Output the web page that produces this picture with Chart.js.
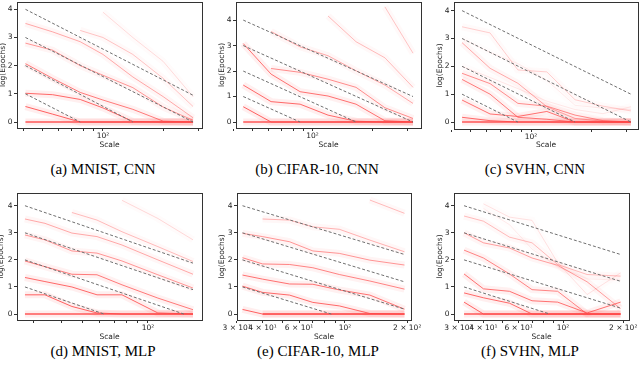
<!DOCTYPE html>
<html>
<head>
<meta charset="utf-8">
<script src="https://cdn.jsdelivr.net/npm/chart.js@4.4.1/dist/chart.umd.min.js"></script>
<style>
  body { margin: 0; background: #fff; width: 640px; height: 374px; position: relative; overflow: hidden; }
  .pane { position: absolute; }
  .cap { position: absolute; width: 200px; text-align: center; font-family: 'Liberation Serif', serif; font-size: 15px; color: #000; white-space: nowrap; }
</style>
</head>
<body>
<div class="pane" style="left:-1px;top:0;"><canvas id="pa" width="206" height="152"></canvas></div>
<div class="pane" style="left:218px;top:0;"><canvas id="pb" width="206" height="152"></canvas></div>
<div class="pane" style="left:436px;top:0;"><canvas id="pc" width="204" height="152"></canvas></div>
<div class="pane" style="left:-3px;top:191px;"><canvas id="pd" width="208" height="151"></canvas></div>
<div class="pane" style="left:218px;top:191px;"><canvas id="pe" width="203" height="151"></canvas></div>
<div class="pane" style="left:436px;top:191px;"><canvas id="pf" width="204" height="151"></canvas></div>

<div class="cap" style="left:3px;top:161px;">(a) MNIST, CNN</div>
<div class="cap" style="left:217px;top:161px;">(b) CIFAR-10, CNN</div>
<div class="cap" style="left:435px;top:161px;">(c) SVHN, CNN</div>
<div class="cap" style="left:3px;top:343px;">(d) MNIST, MLP</div>
<div class="cap" style="left:218px;top:343px;">(e) CIFAR-10, MLP</div>
<div class="cap" style="left:430px;top:343px;">(f) SVHN, MLP</div>

<script>
// scale values on the x axis, one list per panel
const xsA = [41, 56, 77, 100, 141, 200, 282];
const xsB = [45, 62, 86.6, 119.5, 165, 230, 318];
const xsC = [45.2, 62.4, 86, 120, 166, 229, 316];
const xsD = [27.3, 33.7, 44.8, 58.4, 76, 111, 160.9];
const xsE = [32, 40, 54, 70, 94, 132, 194];
const xsF = [32, 40, 54, 70, 94, 132, 194];

// log(Epochs) curves, one row per curve
const mnistCnn = [
  [0, 0, 0, 0, 0, 0, 0],
  [0.55, 0.28, 0, 0, 0, 0, 0],
  [1.02, 0.97, 0.8, 0.5, 0.02, 0, 0],
  [2.07, 1.55, 1.05, 0.78, 0.45, 0.03, 0],
  [2.8, 2.55, 2.0, 1.66, 1.22, 0.53, 0.06],
  [3.5, 3.2, 2.85, 2.4, 1.6, 0.9, 0.15],
  [null, null, 3.25, 3.0, 2.4, 1.55, 0.55],
  [null, null, null, 3.9, 3.0, 2.15, 0.9]
];
const alphaA = [0.9, 0.85, 0.8, 0.7, 0.55, 0.45, 0.3, 0.18];

const cifarCnn = [
  [0, 0, 0, 0, 0, 0, 0],
  [0.6, 0, 0, 0, 0, 0, 0],
  [1.45, 0.8, 0.7, 0.27, 0.03, 0, 0],
  [3.08, 1.88, 1.19, 1.02, 0.7, 0.05, 0],
  [null, 2.1, 1.95, 1.68, 1.36, 0.56, 0.14],
  [null, 3.55, 2.95, 2.6, 2.01, 1.45, 0.73],
  [null, null, null, 4.16, 3.15, 2.52, 1.36],
  [null, null, null, null, null, 4.52, 2.7]
];
const alphaB = [0.9, 0.85, 0.8, 0.75, 0.6, 0.45, 0.35, 0.3];

const svhnCnn = [
  [0, 0, 0, 0, 0, 0, 0],
  [0.17, 0.05, 0, 0, 0, 0, 0],
  [0.79, 0.29, 0.2, 0.38, 0, 0, 0],
  [1.53, 1.0, 0.17, 0.1, 0, 0, 0],
  [1.75, 1.38, 0.67, 0.57, 0.25, 0.05, 0],
  [2.85, 1.93, 1.39, 0.55, 0.13, 0.03, 0],
  [3.42, 3.2, 1.87, 1.8, 0.8, 0.57, 0.4],
  [2.0, 1.6, 1.2, 0.75, 0.45, 0.3, 0.55],
  [3.0, 2.5, 2.1, 1.5, 0.6, 0.5, 0.45]
];
const alphaC = [0.9, 0.8, 0.75, 0.7, 0.6, 0.45, 0.25, 0.12, 0.1];

const mnistMlp = [
  [0, 0, 0, 0, 0, 0, 0],
  [0.71, 0.71, 0.28, 0.04, 0, 0, 0],
  [1.35, 1.2, 1.0, 0.71, 0.71, 0.04, 0],
  [1.96, 1.75, 1.47, 1.45, 1.08, 0.59, 0.16],
  [2.92, 2.74, 2.33, 2.25, 1.96, 1.45, 0.96],
  [3.51, 3.35, 2.99, 2.86, 2.55, 2.0, 1.47],
  [null, null, 3.75, 3.47, 3.04, 2.49, 1.94],
  [null, null, null, null, 4.2, 3.53, 2.74]
];
const alphaD = [0.9, 0.85, 0.8, 0.7, 0.55, 0.45, 0.35, 0.2];

const cifarMlp = [
  [null, 0, 0, 0, 0, 0, 0],
  [0.17, 0, 0, 0, 0, 0, 0],
  [1.03, 0.8, 0.7, 0.43, 0.3, 0.02, 0],
  [1.44, 1.29, 1.11, 1.1, 0.89, 0.7, 0.18],
  [2.08, 1.85, 1.83, 1.71, 1.46, 1.22, 0.92],
  [2.98, 2.86, 2.67, 2.33, 2.24, 1.99, 1.81],
  [null, 3.51, 3.47, 3.22, 3.13, 2.73, 2.3],
  [null, null, null, null, null, 4.21, 3.72]
];
const alphaE = [0.9, 0.85, 0.8, 0.75, 0.65, 0.55, 0.4, 0.35];

const svhnMlp = [
  [0, 0, 0, 0, 0, 0, 0],
  [0.44, 0, 0, 0, 0, 0, 0],
  [0.78, 0.6, 0.4, 0, 0, 0, 0],
  [1.48, 0.93, 0.84, 0.49, 0.44, 0.04, 0.44],
  [2.36, 2.07, 1.48, 0.9, 0.84, 0, 0],
  [3.0, 2.63, 2.44, 2.07, 1.8, 1.19, 0.2],
  [3.62, 3.43, 2.84, 2.63, 1.83, 1.46, 1.4],
  [null, 4.07, 3.58, 3.46, 1.9, 0.72, 1.52],
  [null, 3.9, 3.3, 2.4, 1.75, 1.3, 1.25]
];
const alphaF = [0.9, 0.85, 0.8, 0.75, 0.65, 0.5, 0.35, 0.15, 0.1];

// grey dashed reference lines: [start y, end scale, end y]
const refA = [[4, 282, 0.95], [3, 282, 0], [2, 141, 0], [1, 77, 0]];
const refB = [[4, 318, 1.0], [3, 318, 0], [2, 165, 0], [1, 86.6, 0]];
const refC = [[4, 316, 1.0], [3, 316, 0], [2, 166, 0], [1, 86, 0]];
const refD = [[4, 160.9, 1.88], [3, 160.9, 0.9], [2, 146, 0], [1, 63, 0]];
const refE = [[4, 194, 2.2], [3, 194, 1.19], [2, 194, 0.18], [1, 86, 0]];
const refF = [[4, 194, 2.2], [3, 194, 1.21], [2, 194, 0.22], [1, 86, 0]];

// x tick positions and labels
const ticksTop = [40, 50, 60, 70, 80, 90, 100, 200, 300];
const ticksD = [30, 40, 50, 60, 70, 80, 90, 100];
const ticksEF = [30, 40, 50, 60, 70, 80, 90, 100, 200];
const labOne = { 100: '10²' };
const labEF = { 30: '3 × 10¹', 40: '4 × 10¹', 60: '6 × 10¹', 100: '10²', 200: '2 × 10²' };
const yTicks = [0, 1, 2, 3, 4];

const frame = {
  id: 'frame',
  afterDraw(chart) {
    const a = chart.chartArea, ctx = chart.ctx;
    ctx.save();
    ctx.strokeStyle = '#333';
    ctx.lineWidth = 1;
    ctx.strokeRect(Math.round(a.left) + 0.5, Math.round(a.top) + 0.5, Math.round(a.right - a.left), Math.round(a.bottom - a.top));
    ctx.restore();
  }
};

const tickFont = { family: 'DejaVu Sans', size: 7.5 };

function makePanel(id, xs, curves, alphas, refs, cfg) {
  const sets = [];
  refs.forEach(r => {
    sets.push({
      data: [{ x: xs[0], y: r[0] }, { x: r[1], y: r[2] }],
      borderColor: '#6f6f6f', borderWidth: 1, borderDash: [3, 2], pointRadius: 0
    });
  });
  const pts = curves.map(c => xs.map((x, i) => ({ x: x, y: c[i] })).filter(p => p.y !== null));
  pts.forEach((p, k) => {
    sets.push({ data: p, borderColor: 'rgba(255,70,70,' + alphas[k] + ')', borderWidth: k === 0 ? 1.5 : 1, pointRadius: 0 });
  });
  pts.forEach((p, k) => {
    sets.push({ data: p, borderColor: 'rgba(255,90,90,' + (alphas[k] * 0.12) + ')', borderWidth: 7, pointRadius: 0 });
  });

  new Chart(document.getElementById(id), {
    type: 'line',
    data: { datasets: sets },
    options: {
      responsive: false,
      animation: false,
      devicePixelRatio: 1,
      layout: { padding: { top: 2, right: cfg.padRight, left: 0, bottom: 0 } },
      plugins: { legend: { display: false }, tooltip: { enabled: false } },
      scales: {
        x: {
          type: 'logarithmic',
          min: cfg.xMin, max: cfg.xMax,
          afterBuildTicks: s => { s.ticks = cfg.xTicks.map(v => ({ value: v })); },
          afterFit: s => { s.height = cfg.xh; s.paddingLeft = 0; s.paddingRight = 0; },
          ticks: {
            autoSkip: false, maxRotation: 0, padding: 1, color: '#222', font: tickFont,
            callback: v => cfg.labels[v] || ''
          },
          grid: { display: true, drawOnChartArea: false, drawTicks: true, tickLength: 3, color: '#333' },
          border: { display: true, color: '#333' },
          title: { display: true, text: 'Scale', color: '#222', font: tickFont, padding: { top: 0, bottom: cfg.titlePad } }
        },
        y: {
          min: cfg.yMin, max: cfg.yMax,
          afterBuildTicks: s => { s.ticks = yTicks.map(v => ({ value: v })); },
          afterFit: s => { s.width = cfg.yw; s.paddingTop = 0; s.paddingBottom = 0; },
          ticks: { padding: 1.5, color: '#222', font: tickFont },
          grid: { display: true, drawOnChartArea: false, drawTicks: true, tickLength: 3, color: '#333' },
          border: { display: true, color: '#333' },
          title: { display: true, text: 'log(Epochs)', color: '#222', font: tickFont, padding: { top: 0, bottom: 0 } }
        }
      }
    },
    plugins: [frame]
  });
}

makePanel('pa', xsA, mnistCnn, alphaA, refA, { xMin: 37.2, xMax: 312.6, yMin: -0.213, yMax: 4.26, xTicks: ticksTop, labels: labOne, yw: 18, xh: 24, padRight: 3, titlePad: 2 });
makePanel('pb', xsB, cifarCnn, alphaB, refB, { xMin: 41.4, xMax: 348.6, yMin: -0.235, yMax: 4.71, xTicks: ticksTop, labels: labOne, yw: 18, xh: 24, padRight: 3, titlePad: 2 });
makePanel('pc', xsC, svhnCnn, alphaC, refC, { xMin: 41.2, xMax: 342.8, yMin: -0.25, yMax: 4.31, xTicks: ticksTop, labels: labOne, yw: 18, xh: 23, padRight: 2, titlePad: 2 });
makePanel('pd', xsD, mnistMlp, alphaD, refD, { xMin: 25.1, xMax: 176.9, yMin: -0.22, yMax: 4.47, xTicks: ticksD, labels: labOne, yw: 20, xh: 22, padRight: 3, titlePad: 0 });
makePanel('pe', xsE, cifarMlp, alphaE, refE, { xMin: 30.1, xMax: 208.6, yMin: -0.22, yMax: 4.47, xTicks: ticksEF, labels: labEF, yw: 19, xh: 22, padRight: 10, titlePad: 0 });
makePanel('pf', xsF, svhnMlp, alphaF, refF, { xMin: 28.5, xMax: 213.8, yMin: -0.22, yMax: 4.47, xTicks: ticksEF, labels: labEF, yw: 18, xh: 22, padRight: 11, titlePad: 0 });
</script>
</body>
</html>
